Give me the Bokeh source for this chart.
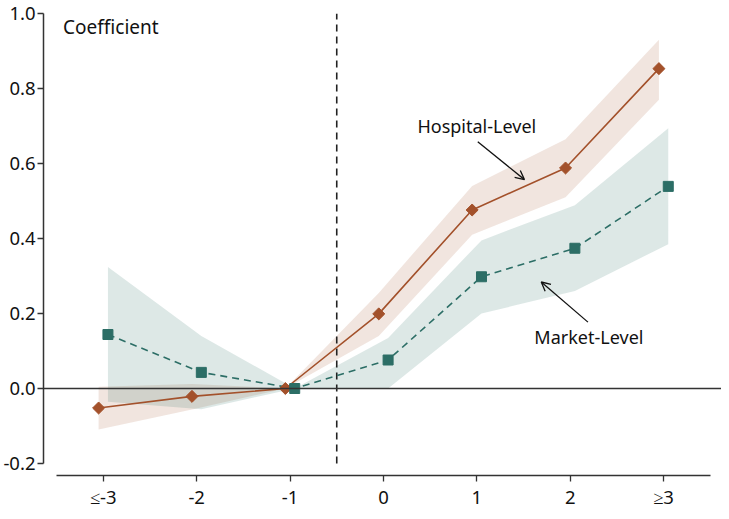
import numpy as np
from bokeh.plotting import figure
from bokeh.models import Range1d, FixedTicker, Label, Arrow, OpenHead, Span
from bokeh.embed import file_html
from bokeh.resources import INLINE

categories = ["≤-3", "-2", "-1", "0", "1", "2", "≥3"]
hosp = [-0.052, -0.021, 0.0, 0.199, 0.476, 0.588, 0.853]
hosp_lo = [-0.109, -0.056, 0.0, 0.14, 0.41, 0.51, 0.77]
hosp_hi = [0.005, 0.012, 0.0, 0.255, 0.54, 0.665, 0.93]
mkt = [0.144, 0.043, 0.0, 0.076, 0.298, 0.374, 0.539]
mkt_lo = [-0.035, -0.055, 0.0, 0.0, 0.2, 0.26, 0.385]
mkt_hi = [0.324, 0.14, 0.0, 0.135, 0.395, 0.489, 0.694]
y_ticks = [-0.2, 0.0, 0.2, 0.4, 0.6, 0.8, 1.0]

FONT = "Noto Sans"
ORANGE = "#A3512B"
TEAL = "#2C6E66"

idx = np.arange(len(categories))
xh = idx - 0.05
xm = idx + 0.05

p = figure(width=721, height=511, output_backend="svg", toolbar_location=None,
           x_range=Range1d(-0.64, 6.62), y_range=Range1d(-0.232, 1.0),
           min_border_top=13, min_border_left=30, min_border_right=0, min_border_bottom=20)
p.outline_line_color = None
p.grid.visible = False
p.background_fill_color = "white"

# bands
p.varea(x=xh, y1=hosp_lo, y2=hosp_hi, fill_color=ORANGE, fill_alpha=0.15)
p.varea(x=xm, y1=mkt_lo, y2=mkt_hi, fill_color=TEAL, fill_alpha=0.16)

# zero line and event line
p.add_layout(Span(location=0, dimension="width", line_color="#333333", line_width=1.6))
p.segment(x0=[2.5], y0=[-0.2], x1=[2.5], y1=[1.0], line_color="#222222", line_width=1.6, line_dash="7 5")

# series
p.line(xm, mkt, line_color=TEAL, line_width=1.6, line_dash="7 5")
p.line(xh, hosp, line_color=ORANGE, line_width=1.6)
p.scatter(xh, hosp, marker="square", angle=np.pi / 4, size=8.5, fill_color=ORANGE, line_color=ORANGE)
p.scatter(xm, mkt, marker="square", size=10, fill_color=TEAL, line_color=TEAL)

# annotations
ann = dict(text_font=FONT, text_baseline="middle", text_color="#111111")
p.add_layout(Label(x=-0.43, y=0.965, text="Coefficient", text_align="left", text_font_size="19px", **ann))
p.add_layout(Label(x=4.0, y=0.70, text="Hospital-Level", text_align="center", text_font_size="18px", **ann))
p.add_layout(Label(x=5.2, y=0.137, text="Market-Level", text_align="center", text_font_size="18px", **ann))
p.add_layout(Arrow(x_start=4.01, y_start=0.658, x_end=4.51, y_end=0.557, line_width=1.3,
                   line_color="#111111", end=OpenHead(size=9, line_width=1.3, line_color="#111111")))
p.add_layout(Arrow(x_start=5.19, y_start=0.177, x_end=4.69, y_end=0.284, line_width=1.3,
                   line_color="#111111", end=OpenHead(size=9, line_width=1.3, line_color="#111111")))

# axes
xa = p.xaxis[0]
xa.ticker = FixedTicker(ticks=list(idx))
xa.major_label_overrides = {int(i): c for i, c in zip(idx, categories)}
xa.bounds = (-0.5, 6.5)
ya = p.yaxis[0]
ya.ticker = FixedTicker(ticks=y_ticks)
ya.major_label_overrides = {t: f"{t:.1f}" for t in y_ticks}
ya.bounds = (-0.2, 1.0)
for ax in (xa, ya):
    ax.axis_line_color = "#333333"
    ax.axis_line_width = 1.5
    ax.major_tick_line_color = "#333333"
    ax.major_tick_line_width = 1.3
    ax.major_tick_out = 6
    ax.major_tick_in = 0
    ax.minor_tick_line_color = None
    ax.major_label_text_font = FONT
    ax.major_label_text_font_size = "18.5px"
    ax.major_label_text_color = "#111111"
    ax.major_label_standoff = 2
    ax.axis_label_standoff = 0

open("out.html", "w").write(file_html(p, INLINE))
